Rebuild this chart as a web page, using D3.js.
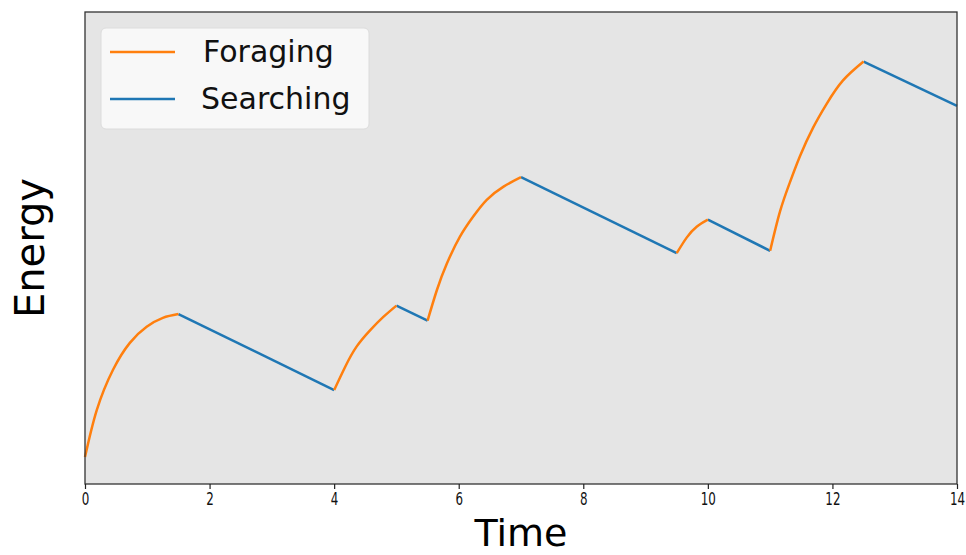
<!DOCTYPE html>
<html>
<head>
<meta charset="utf-8">
<script src="https://cdn.jsdelivr.net/npm/d3@7"></script>
<style>
  body { margin: 0; background: #fff; }
  svg { display: block; font-family: "DejaVu Sans", sans-serif; }
</style>
</head>
<body>
<div id="chart"></div>
<script>
// time ticks on the x axis
const timeTicks = [0, 2, 4, 6, 8, 10, 12, 14];

// foraging phases: [time, energy]
const forage1 = [[0, 0.57], [0.19, 1.57], [0.45, 2.42], [0.72, 2.99], [0.99, 3.33], [1.25, 3.52], [1.5, 3.60]];
const forage2 = [[4, 1.99], [4.18, 2.49], [4.36, 2.91], [4.58, 3.26], [4.79, 3.54], [5, 3.78]];
const forage3 = [[5.5, 3.46], [5.65, 4.11], [5.81, 4.67], [6.02, 5.24], [6.23, 5.66], [6.45, 6.02], [6.72, 6.30], [7, 6.50]];
const forage4 = [[9.5, 4.89], [9.66, 5.22], [9.82, 5.45], [10, 5.60]];
const forage5 = [[11, 4.94], [11.16, 5.78], [11.32, 6.40], [11.48, 6.95], [11.69, 7.55], [11.91, 8.06], [12.17, 8.55], [12.5, 8.95]];

// searching phases: straight decline
const search1 = [[1.5, 3.60], [4, 1.99]];
const search2 = [[5, 3.78], [5.5, 3.46]];
const search3 = [[7, 6.50], [9.5, 4.89]];
const search4 = [[10, 5.60], [11, 4.94]];
const search5 = [[12.5, 8.95], [14, 8.01]];

const foraging = [forage1, forage2, forage3, forage4, forage5];
const searching = [search1, search2, search3, search4, search5];

const width = 966, height = 555;
const margin = { left: 85, right: 9, top: 12, bottom: 71 };
const orange = '#ff7f0e', blue = '#1f77b4';

const svg = d3.select('#chart').append('svg')
  .attr('width', width)
  .attr('height', height);

const x = d3.scaleLinear().domain([0, 14]).range([margin.left, width - margin.right]);
const y = d3.scaleLinear().domain([0, 10]).range([height - margin.bottom, margin.top]);

// plot background
svg.append('rect')
  .attr('x', x(0)).attr('y', y(10))
  .attr('width', x(14) - x(0)).attr('height', y(0) - y(10))
  .attr('fill', '#e5e5e5');

const smooth = d3.line()
  .x(d => x(d[0]))
  .y(d => y(d[1]))
  .curve(d3.curveNatural);

const straight = d3.line()
  .x(d => x(d[0]))
  .y(d => y(d[1]));

svg.selectAll('path.search')
  .data(searching)
  .enter().append('path')
  .attr('class', 'search')
  .attr('d', straight)
  .attr('fill', 'none')
  .attr('stroke', blue)
  .attr('stroke-width', 2.5);

svg.selectAll('path.forage')
  .data(foraging)
  .enter().append('path')
  .attr('class', 'forage')
  .attr('d', smooth)
  .attr('fill', 'none')
  .attr('stroke', orange)
  .attr('stroke-width', 2.5);

// frame
svg.append('rect')
  .attr('x', x(0)).attr('y', y(10))
  .attr('width', x(14) - x(0)).attr('height', y(0) - y(10))
  .attr('fill', 'none')
  .attr('stroke', '#333')
  .attr('stroke-width', 1.3);

// x axis
const xAxis = svg.append('g')
  .attr('transform', `translate(0,${y(0)})`)
  .call(d3.axisBottom(x).tickValues(timeTicks).tickSize(5).tickPadding(4).tickFormat(d3.format('d')));
xAxis.select('.domain').remove();
xAxis.selectAll('line').attr('stroke', '#222').attr('stroke-width', 1.2);
// labels look narrow in the reference, squeeze them sideways
xAxis.selectAll('.tick text')
  .attr('font-size', 17)
  .attr('fill', '#111')
  .attr('font-family', '"DejaVu Sans", sans-serif')
  .attr('text-anchor', 'middle')
  .attr('transform', 'scale(0.7,1)');

// axis titles
svg.append('text')
  .attr('x', (x(0) + x(14)) / 2)
  .attr('y', 546)
  .attr('text-anchor', 'middle')
  .attr('font-size', 38)
  .attr('fill', '#000')
  .text('Time');

svg.append('text')
  .attr('transform', `translate(44,${(y(0) + y(10)) / 2}) rotate(-90)`)
  .attr('text-anchor', 'middle')
  .attr('font-size', 40)
  .attr('fill', '#000')
  .text('Energy');

// legend
const legend = svg.append('g');
legend.append('rect')
  .attr('x', 101).attr('y', 28)
  .attr('width', 268).attr('height', 101)
  .attr('rx', 5)
  .attr('fill', '#f8f8f8')
  .attr('stroke', '#dcdcdc')
  .attr('stroke-width', 1);

const legendItems = [['Foraging', orange], ['Searching', blue]];
legendItems.forEach((item, i) => {
  const cy = 52 + i * 47;
  legend.append('line')
    .attr('x1', 110).attr('x2', 175)
    .attr('y1', cy).attr('y2', cy)
    .attr('stroke', item[1])
    .attr('stroke-width', 2.5);
  legend.append('text')
    .attr('x', i === 0 ? 203 : 201).attr('y', cy + 10)
    .attr('font-size', 30)
    .attr('fill', '#111')
    .text(item[0]);
});
</script>
</body>
</html>
